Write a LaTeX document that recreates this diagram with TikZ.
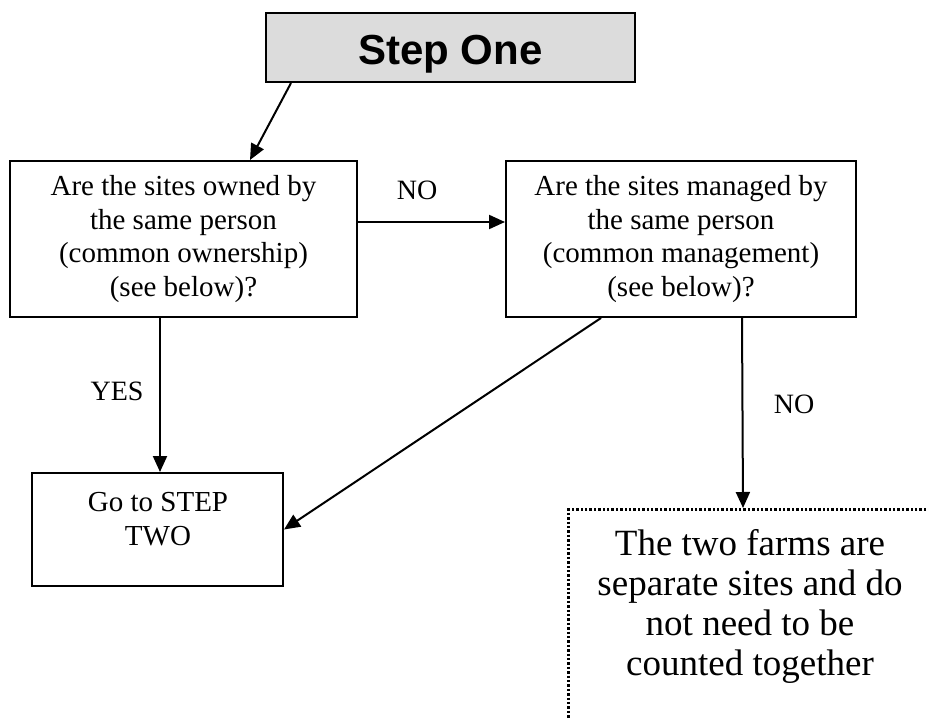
\documentclass[tikz,border=0pt]{standalone}
\usepackage{fontspec}
\setmainfont{Liberation Serif}
\newfontfamily\arialbf{Liberation Sans}[Scale=1.0]
\usetikzlibrary{arrows.meta}
\definecolor{stepgray}{HTML}{DCDCDC}
\tikzset{
  qbox/.style={draw=black, line width=2pt, rectangle, align=center, inner sep=0pt,
    font=\fontsize{29}{33.5}\selectfont},
  lbl/.style={font=\fontsize{28}{32}\selectfont, inner sep=0pt},
  conn/.style={line width=2pt, -{Triangle[length=16pt,width=14pt]}},
}
\begin{document}
\begin{tikzpicture}[x=1pt,y=-1pt]
\useasboundingbox (0,0) rectangle (928,719);
\clip (0,0) rectangle (928,719);
% Step One
\node[draw=black, line width=2pt, fill=stepgray, minimum width=369pt, minimum height=69pt, inner sep=0pt] (s1) at (450.5,47.5) {};
\node[inner sep=0pt, anchor=base, font=\arialbf\bfseries\fontsize{42}{48}\selectfont] (s1t) at (450.5,65) {Step One};
% question boxes
\node[qbox, minimum width=347pt, minimum height=156pt] (b1) at (183.5,239)
  {Are the sites owned by\\the same person\\(common ownership)\\(see below)?};
\node[qbox, minimum width=350pt, minimum height=156pt] (b2) at (681,239)
  {Are the sites managed by\\the same person\\(common management)\\(see below)?};
% Go to step two
\node[draw=black, line width=2pt, minimum width=251pt, minimum height=113pt, inner sep=0pt] (b3) at (157.5,529.5) {};
\node[align=center, inner sep=0pt, font=\fontsize{29}{34}\selectfont, anchor=base] (b3t) at (158,545) {Go to STEP\\TWO};
% dotted box
\node[draw=black, line width=3pt, dash pattern=on 2.4pt off 2pt, minimum width=380pt, minimum height=240pt,
  anchor=north west, inner sep=0pt] (d) at (567,508) {};
\node[align=center, inner sep=0pt, font=\fontsize{37}{40}\selectfont, anchor=base] (dt) at (750,675)
  {The two farms are\\separate sites and do\\not need to be\\counted together};
% connectors
\draw[conn] ([xshift=26pt]s1.south west) -- ([xshift=241pt]b1.north west);
\draw[conn] ([yshift=17pt]b1.east) -- ([yshift=17pt]b2.west);
\draw[conn] ([xshift=151pt]b1.south west) -- ([xshift=151pt]b1.south west |- b3.north);
\draw[conn] ([xshift=96pt]b2.south west) -- (b3.east);
\draw[conn] ([xshift=237pt]b2.south west) -- ([xshift=176pt]d.north west);
% labels
\node[lbl] (no1) at (417,190) {NO};
\node[lbl] (yes) at (117,391) {YES};
\node[lbl] (no2) at (794,404) {NO};
\end{tikzpicture}
\end{document}
